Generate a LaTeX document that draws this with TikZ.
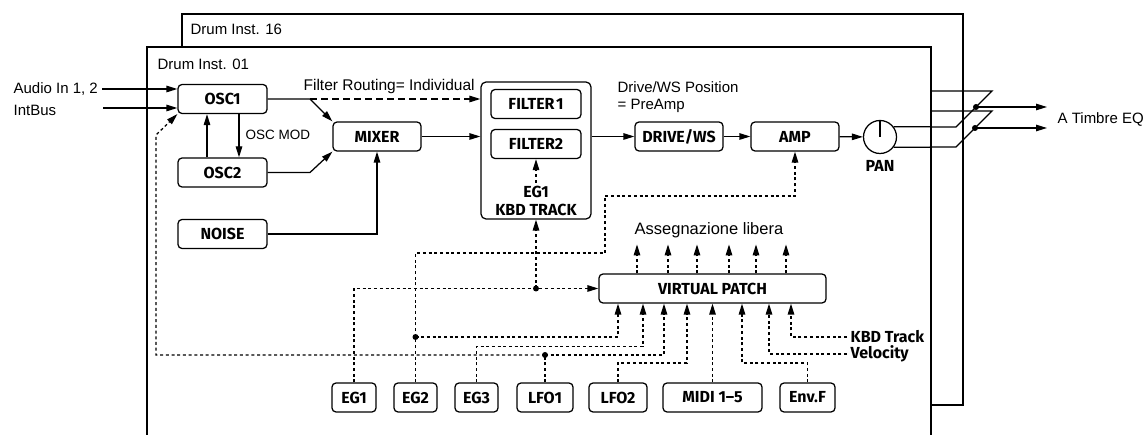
\documentclass[tikz,border=0pt]{standalone}
\usepackage{fontspec}
\setmainfont{Liberation Sans}
\newfontfamily\bfnt{Fira Sans}
\usetikzlibrary{arrows.meta}
\begin{document}
\begin{tikzpicture}[x=1pt,y=-1pt,line width=1.25pt,
  >={Triangle[length=11pt,width=6.5pt]},
  box/.style={draw,rounded corners=4pt,inner sep=0pt,minimum height=29pt,minimum width=#1,font=\bfnt\bfseries\fontsize{16}{18}\selectfont},
  txt/.style={inner sep=0pt,font=\fontsize{15}{18}\selectfont},
  btxt/.style={inner sep=0pt,font=\bfnt\bfseries\fontsize{16}{18}\selectfont},
  modl/.style={dash pattern=on 3pt off 2.7pt},
  route/.style={dash pattern=on 7pt off 4pt}]
\useasboundingbox (0,0) rectangle (1146,435);
% frames
\draw (182,14) rectangle (963,405);
\fill[white] (147,47) rectangle (931,436);
\draw (147,436) -- (147,47) -- (931,47) -- (931,436);
\node[txt,anchor=west] (d16) at (190,29) {Drum Inst. 16};
\node[txt,anchor=west] (d01) at (157,64) {Drum Inst. 01};
% main blocks
\node[box=89pt] (osc1) at (222.5,99) {OSC1};
\node[box=89pt] (osc2) at (222.5,172.5) {OSC2};
\node[box=89pt] (noise) at (222.5,234) {NOISE};
\node[box=88pt] (mixer) at (377,136.5) {MIXER};
\node[draw,rounded corners=5pt,minimum width=110pt,minimum height=137pt,inner sep=0pt] (fbox) at (536,150.5) {};
\node[box=90pt] (f1) at (536,104) {FILTER\kern1.5pt 1};
\node[box=90pt] (f2) at (536,144) {FILTER2};
\node[btxt] (feg) at (536,192) {EG1};
\node[btxt] (fkbd) at (536,210) {KBD TRACK};
\node[box=88pt] (drive) at (679,136.5) {DRIVE/WS};
\node[box=88pt] (amp) at (795,136.5) {AMP};
\node[draw,circle,minimum size=33pt,inner sep=0pt] (pan) at (880,137) {};
\draw (pan.center) -- (pan.north);
\node[btxt] (panl) at (880,166) {PAN};
\node[txt,anchor=west] (dws) at (617,87) {Drive/WS Position};
\node[txt,anchor=west] (pre) at (617,106) {= PreAmp};
\node[inner sep=0pt,font=\fontsize{15.5}{18}\selectfont,anchor=west] (fr) at (303,86) {Filter Routing= Individual};
\node[inner sep=0pt,font=\fontsize{13.5}{16}\selectfont,anchor=west] (om) at (245,135) {OSC MOD};
\node[txt,anchor=west] (ain) at (13,89) {Audio In 1, 2};
\node[txt,anchor=west] (ib) at (13,110) {IntBus};
\node[txt,anchor=west] (te) at (1057,119) {A Timbre EQ};
% virtual patch
\node[box=227pt] (vp) at (712.5,288.5) {VIRTUAL PATCH};
\node[inner sep=0pt,font=\fontsize{16.5}{18}\selectfont] (al) at (709,230) {Assegnazione libera};
\node[box=44pt] (eg1b) at (354,397.5) {EG1};
\node[box=43pt] (eg2b) at (415.5,397.5) {EG2};
\node[box=43pt] (eg3b) at (476.5,397.5) {EG3};
\node[box=56pt] (lfo1) at (545,397.5) {LFO1};
\node[box=58pt] (lfo2) at (618,397.5) {LFO2};
\node[box=99pt] (midi) at (712.5,397.5) {MIDI 1–5};
\node[box=55pt] (envf) at (807.5,397.5) {Env.F};
\node[btxt,anchor=west] (kbd) at (850,337) {KBD Track};
\node[btxt,anchor=west] (vel) at (850,354) {Velocity};
% audio path
\coordinate (r1) at (310,99);
\coordinate (r2) at (310,172.5);
\coordinate (ibs) at (103,108);
\draw[->] ([xshift=4pt]ain.east) -- (ain.east -| osc1.west);
\draw[->] (ibs) -- (ibs -| osc1.west);
\draw[->] ([xshift=-15.5pt]osc2.north) -- ([xshift=-15.5pt]osc1.south);
\draw[->] ([xshift=16.5pt]osc1.south) -- ([xshift=16.5pt]osc2.north);
\draw[->] (osc1.east) -- (r1) -- (mixer.north west);
\draw[->] (osc2.east) -- (r2) -- (mixer.south west);
\draw[->] (noise.east) -| (mixer.south);
\draw[route,->] (r1) -- (r1 -| fbox.west);
\draw[->] (mixer.east) -- (mixer.east -| fbox.west);
\draw[->] (fbox.east |- drive.west) -- (drive.west);
\draw[->] (drive) -- (amp);
\draw[->] (amp) -- (pan);
\draw[modl,->] ([yshift=3pt]feg.north) -- (f2.south);
% outputs
\coordinate (s1) at (956,127); \coordinate (t1) at (992,91); \coordinate (u1) at (930,91);
\coordinate (s2) at (956,147); \coordinate (t2) at (992,111); \coordinate (u2) at (930,111);
\draw (pan.37) -- (s1) -- (t1) -- (u1);
\draw (pan.-37) -- (s2) -- (t2) -- (u2);
\coordinate (o1) at (976,107); \coordinate (o2) at (975,128);
\coordinate (e1) at (1047,107); \coordinate (e2) at (1047,128);
\draw[->] (o1) -- (e1);
\draw[->] (o2) -- (e2);
\fill (o1) circle (3pt);
\fill (o2) circle (3pt);
% modulation
\coordinate (k1) at (536,288.5);
\coordinate (k2) at (415.5,337);
\coordinate (k3) at (476.5,346.5);
\coordinate (k4) at (545,355);
\coordinate (k5) at (618,363);
\coordinate (k6) at (807.5,363);
\coordinate (lp1) at (156,355);
\coordinate (lp2) at (156,135);
\coordinate (a1) at (605,253);
\coordinate (a2) at (795,196);
\draw[modl,->] (eg1b.north) |- (vp.west);
\draw[modl,->] (k1) -- (fbox.south);
\draw[modl,->] (eg2b.north) |- (a1) |- (a2) -- (amp.south);
\draw[modl,->] (k2) -| ([xshift=-94.5pt]vp.south);
\draw[modl,->] (eg3b.north) -- (k3) -| ([xshift=-69.5pt]vp.south);
\draw[modl] (lfo1.north) -- (k4);
\draw[modl,->] (k4) -| ([xshift=-48.5pt]vp.south);
\draw[modl,->] (k4) -- (lp1) -- (lp2) -- (osc1.south west);
\draw[modl,->] (lfo2.north) -- (k5) -| ([xshift=-25.5pt]vp.south);
\draw[modl,->] (midi.north) -- (vp.south);
\draw[modl,->] (envf.north) -- (k6) -| ([xshift=29.5pt]vp.south);
\draw[modl,->] ([xshift=-3pt]vel.west) -| ([xshift=56.5pt]vp.south);
\draw[modl,->] ([xshift=-3pt]kbd.west) -| ([xshift=78.5pt]vp.south);
\foreach \dx in {-75.5,-44.5,-15.5,16.5,43.5,73.5}
  \draw[modl,->] ([xshift=\dx pt]vp.north) -- ++(0,-29);
\fill (k1) circle (3pt);
\fill (k2) circle (3pt);
\fill (k4) circle (3pt);
\end{tikzpicture}
\end{document}
